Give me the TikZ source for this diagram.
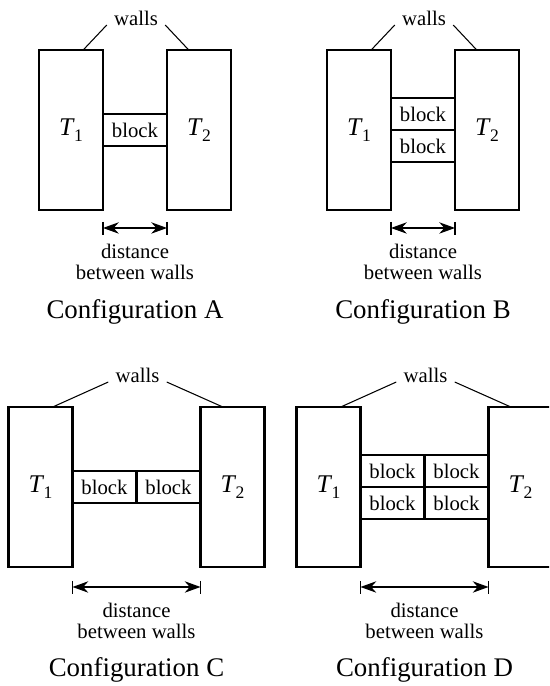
\documentclass[tikz,border=0pt]{standalone}
\usepackage{fontspec}
\setmainfont{Liberation Serif}
\usetikzlibrary{positioning,calc,arrows.meta}

\newcommand{\tw}[1]{\textit{T}\kern-0.5pt\raisebox{-0.5ex}{\fontsize{10}{10}\selectfont #1}}

\begin{document}
\begin{tikzpicture}[x=0.02cm, y=-0.02cm,
    wall/.style={draw, line width=1.5pt, outer sep=0pt,
        minimum width=1.28cm, minimum height=3.2cm,
        font=\fontsize{14.5}{15}\selectfont},
    block/.style={draw, line width=1.5pt, outer sep=0pt, inner sep=0pt,
        minimum width=1.28cm, minimum height=0.64cm,
        font=\fontsize{11.8}{12}\selectfont},
    wlbl/.style={font=\fontsize{11.8}{12}\selectfont, inner xsep=0.14cm, inner ysep=0pt},
    lbl/.style={font=\fontsize{11.8}{12.2}\selectfont, align=center, inner sep=0pt},
    cfg/.style={font=\fontsize{15.3}{16}\selectfont, inner sep=0pt},
    lead/.style={line width=0.6pt},
    gap/.style={{Stealth[length=9pt,width=6.5pt]}-{Stealth[length=9pt,width=6.5pt]}, line width=0.6pt},
    dimtick/.style={line width=0.6pt}]
    \useasboundingbox (0,0) rectangle (549,686);
    \clip (0,0) rectangle (549,686);

    % Configuration A
    \node[wall] (LA) at (71,130) {\tw{1}};
    \node[wall] (RA) at (199,130) {\tw{2}};
    \node[block, anchor=west] (bA) at (LA.east) {block};
    \node[wlbl, anchor=base] (wA) at ($(LA.north)!0.5!(RA.north)+(1,-25)$) {walls};
    \draw[lead] (wA.base west) -- ($(LA.north west)!0.69!(LA.north east)$);
    \draw[lead] (wA.base east) -- ($(RA.north west)!0.34!(RA.north east)$);
    \coordinate (dA1) at ($(LA.south east)+(0,18)$);
    \coordinate (dA2) at ($(RA.south west)+(0,18)$);
    \draw[gap] (dA1) -- (dA2);
    \draw[dimtick] ($(dA1)+(0,-6)$) -- ($(dA1)+(0,7)$);
    \draw[dimtick] ($(dA2)+(0,-6)$) -- ($(dA2)+(0,7)$);
    \node[lbl] (tA) at ($(dA1)!0.5!(dA2)+(0,34)$) {distance\\between walls};
    \node[cfg] (cA) at ($(dA1)!0.5!(dA2)+(0,84)$) {Configuration A};

    % Configuration B
    \node[wall] (LB) at (359,130) {\tw{1}};
    \node[wall] (RB) at (487,130) {\tw{2}};
    \node[block, anchor=south west] (bB1) at (LB.east) {block};
    \node[block, below=0pt of bB1] (bB2) {block};
    \node[wlbl, anchor=base] (wB) at ($(LB.north)!0.5!(RB.north)+(1,-25)$) {walls};
    \draw[lead] (wB.base west) -- ($(LB.north west)!0.69!(LB.north east)$);
    \draw[lead] (wB.base east) -- ($(RB.north west)!0.34!(RB.north east)$);
    \coordinate (dB1) at ($(LB.south east)+(0,18)$);
    \coordinate (dB2) at ($(RB.south west)+(0,18)$);
    \draw[gap] (dB1) -- (dB2);
    \draw[dimtick] ($(dB1)+(0,-6)$) -- ($(dB1)+(0,7)$);
    \draw[dimtick] ($(dB2)+(0,-6)$) -- ($(dB2)+(0,7)$);
    \node[lbl] (tB) at ($(dB1)!0.5!(dB2)+(0,34)$) {distance\\between walls};
    \node[cfg] (cB) at ($(dB1)!0.5!(dB2)+(0,84)$) {Configuration B};

    % Configuration C
    \node[wall] (LC) at (40.5,487) {\tw{1}};
    \node[wall] (RC) at (232.5,487) {\tw{2}};
    \node[block, anchor=west] (bC1) at (LC.east) {block};
    \node[block, right=0pt of bC1] (bC2) {block};
    \node[wlbl, anchor=base] (wC) at ($(LC.north)!0.5!(RC.north)+(1,-25)$) {walls};
    \draw[lead] (wC.base west) -- ($(LC.north west)!0.69!(LC.north east)$);
    \draw[lead] (wC.base east) -- ($(RC.north west)!0.35!(RC.north east)$);
    \coordinate (dC1) at ($(LC.south east)+(0,20)$);
    \coordinate (dC2) at ($(RC.south west)+(0,20)$);
    \draw[gap] (dC1) -- (dC2);
    \draw[dimtick] ($(dC1)+(0,-6)$) -- ($(dC1)+(0,7)$);
    \draw[dimtick] ($(dC2)+(0,-6)$) -- ($(dC2)+(0,7)$);
    \node[lbl] (tC) at ($(dC1)!0.5!(dC2)+(0,34)$) {distance\\between walls};
    \node[cfg] (cC) at ($(dC1)!0.5!(dC2)+(0,83)$) {Configuration C};

    % Configuration D
    \node[wall] (LD) at (328.5,487) {\tw{1}};
    \node[wall] (RD) at (520.5,487) {\tw{2}};
    \node[block, anchor=south west] (bD1) at (LD.east) {block};
    \node[block, right=0pt of bD1] (bD2) {block};
    \node[block, below=0pt of bD1] (bD3) {block};
    \node[block, right=0pt of bD3] (bD4) {block};
    \node[wlbl, anchor=base] (wD) at ($(LD.north)!0.5!(RD.north)+(1,-25)$) {walls};
    \draw[lead] (wD.base west) -- ($(LD.north west)!0.69!(LD.north east)$);
    \draw[lead] (wD.base east) -- ($(RD.north west)!0.35!(RD.north east)$);
    \coordinate (dD1) at ($(LD.south east)+(0,20)$);
    \coordinate (dD2) at ($(RD.south west)+(0,20)$);
    \draw[gap] (dD1) -- (dD2);
    \draw[dimtick] ($(dD1)+(0,-6)$) -- ($(dD1)+(0,7)$);
    \draw[dimtick] ($(dD2)+(0,-6)$) -- ($(dD2)+(0,7)$);
    \node[lbl] (tD) at ($(dD1)!0.5!(dD2)+(0,34)$) {distance\\between walls};
    \node[cfg] (cD) at ($(dD1)!0.5!(dD2)+(0,83)$) {Configuration D};
\end{tikzpicture}
\end{document}
